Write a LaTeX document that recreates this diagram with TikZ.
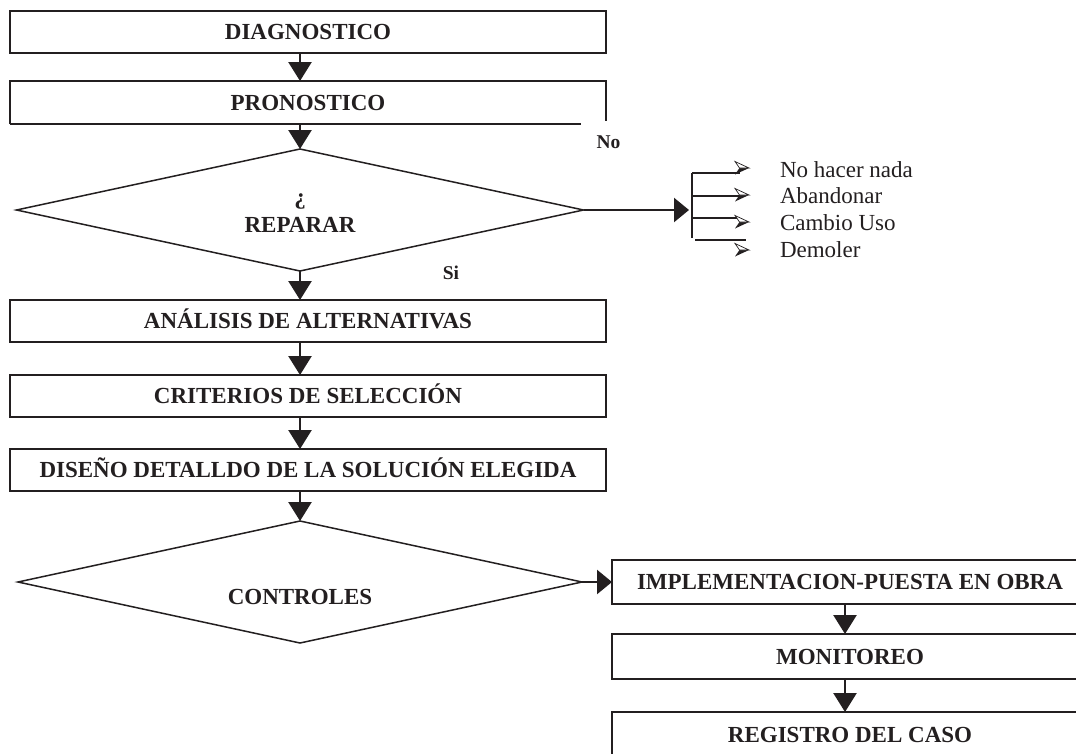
\documentclass[tikz,border=0pt]{standalone}
\usepackage{fontspec}
\setmainfont{Liberation Serif}
\usetikzlibrary{arrows.meta,shapes.geometric,calc}
\definecolor{ink}{RGB}{35,31,32}

\tikzset{
  every node/.style={inner sep=0pt,outer sep=0pt,text=ink},
  stepbox/.style={draw=ink,line width=1.5pt,minimum width=596pt,minimum height=42pt,
    text height=15pt,text depth=0pt,font=\fontsize{23}{27}\selectfont\bfseries},
  sidebox/.style={stepbox,minimum width=476pt,minimum height=44pt},
  decision/.style={draw=ink,line width=1.5pt,shape=diamond},
  lbl/.style={font=\fontsize{23}{27}\selectfont\bfseries},
  small/.style={font=\fontsize{19.5}{23}\selectfont\bfseries},
  item/.style={font=\fontsize{23}{27}\selectfont,anchor=base west},
  arr/.style={draw=ink,line width=2.5pt,-{Triangle[length=19pt,width=23pt]}},
  harr/.style={draw=ink,line width=2.5pt,-{Triangle[length=15pt,width=24pt]}},
  branch/.style={draw=ink,line width=2pt},
  bullet/.pic={
    \fill[ink] (7,0) -- (-2.5,0) -- (-7,6.5) -- cycle;
    \filldraw[fill=white,draw=ink,line width=0.7pt] (7,0) -- (-7,-6.5) -- (-2.5,0) -- cycle;
  }
}

\begin{document}
\begin{tikzpicture}[x=1pt,y=-1pt]
\useasboundingbox (0,0) rectangle (1076,753);
\clip (0,0) rectangle (1076,753);
\fill[white] (0,0) rectangle (1076,753);

% main column
\node[stepbox] (dia) at (308,32) {DIAGNOSTICO};
\node[stepbox,draw=none,minimum height=43pt] (pro) at (308,102.5) {PRONOSTICO};
\draw[ink,line width=1.5pt] (pro.south west) -- (pro.north west) -- (pro.north east) -- ([yshift=3pt]pro.south east);
\draw[ink,line width=1.5pt] (pro.south west) -- ([xshift=-25pt]pro.south east);

\node[decision,minimum width=567pt,minimum height=122pt] (rep) at (300,210) {};
\node[lbl,anchor=base] (q) at (300,204) {¿};
\node[lbl,anchor=base] (reptxt) at (300,232) {REPARAR};

\node[stepbox] (ana) at (308,321) {ANÁLISIS DE ALTERNATIVAS};
\node[stepbox] (cri) at (308,396) {CRITERIOS DE SELECCIÓN};
\node[stepbox] (dis) at (308,470) {DISEÑO DETALLDO DE LA SOLUCIÓN ELEGIDA};

\node[decision,minimum width=564pt,minimum height=122pt] (con) at (300,582) {};
\node[lbl,anchor=base] (contxt) at (300,604) {CONTROLES};

% right column
\node[sidebox] (imp) at (850,582) {IMPLEMENTACION-PUESTA EN OBRA};
\node[sidebox,minimum height=45pt] (mon) at (850,656.5) {MONITOREO};
\node[sidebox,minimum height=46pt] (reg) at (850,735) {REGISTRO DEL CASO};

% branch labels
\node[small] (no) at (608.5,142) {No};
\node[small] (si) at (451,273) {Si};

% vertical flow
\draw[arr] (dia.south -| rep.north) -- (pro.north -| rep.north);
\draw[arr] (pro.south -| rep.north) -- (rep.north);
\draw[arr] (rep.south) -- (rep.south |- ana.north);
\draw[arr] (ana.south -| rep.south) -- (cri.north -| rep.south);
\draw[arr] (cri.south -| rep.south) -- (dis.north -| rep.south);
\draw[arr] (dis.south -| con.north) -- (con.north);
\draw[harr] (con.east) -- (imp.west);
\draw[arr] ([xshift=-5pt]imp.south) -- ([xshift=-5pt]mon.north);
\draw[arr] ([xshift=-5pt]mon.south) -- ([xshift=-5pt]reg.north);

% "No" outcomes
\coordinate (hub) at (689,210);
\coordinate (bartop) at (692,173);
\coordinate (barbot) at (692,238);
\draw[harr] (rep.east) -- (hub);
\draw[branch] (bartop) -- (barbot);
\coordinate (e1) at (740,173);
\coordinate (e2) at (740,196);
\coordinate (e3) at (740,218);
\draw[branch] (bartop) -- (e1);
\draw[branch] (bartop |- e2) -- (e2);
\draw[branch] (bartop |- e3) -- (e3);
\draw[branch] (695,239.5) -- (746,239.5);

\pic at (742,168) {bullet};
\pic at (742,195) {bullet};
\pic at (742,222) {bullet};
\pic at (742,250) {bullet};

\node[item] (o1) at (780,177) {No hacer nada};
\node[item] (o2) at (780,203.7) {Abandonar};
\node[item] (o3) at (780,230.3) {Cambio Uso};
\node[item] (o4) at (780,257) {Demoler};
\end{tikzpicture}
\end{document}
